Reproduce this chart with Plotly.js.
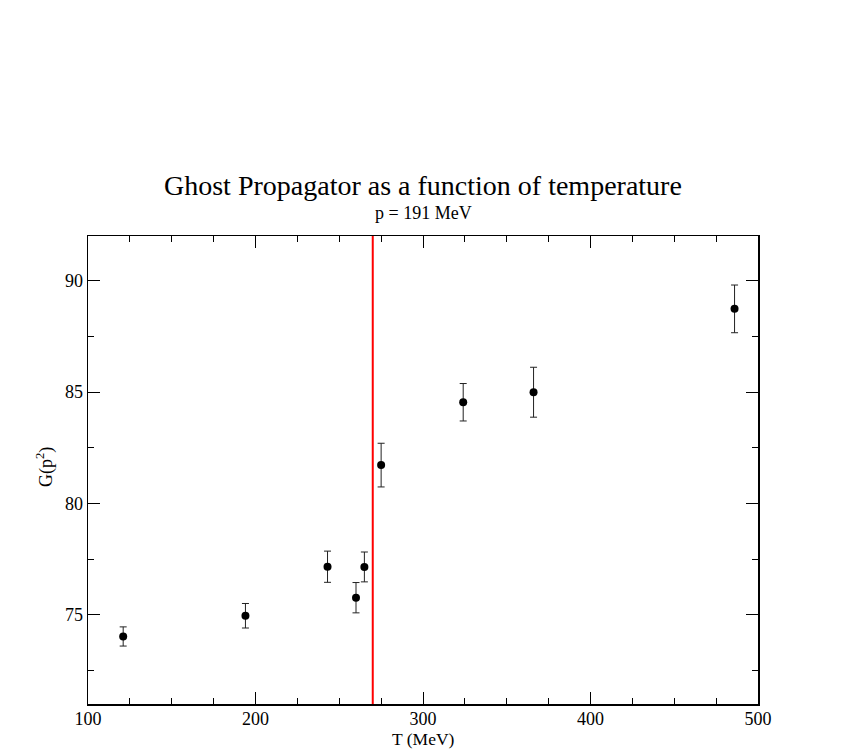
<!DOCTYPE html>
<html>
<head>
<meta charset="utf-8">
<script src="https://cdn.plot.ly/plotly-3.0.1.min.js"></script>
<style>html,body{margin:0;padding:0;background:#fff;}#chart{width:861px;height:749px;}</style>
</head>
<body>
<div id="chart"></div>
<script>
// Data
const temperature = [121, 194, 243, 260, 265, 275, 324, 366, 486];      // T (MeV)
const ghostProp   = [74.03, 74.96, 77.16, 75.77, 77.15, 81.72, 84.54, 84.99, 88.73]; // G(p^2)
const ghostErr    = [0.43, 0.55, 0.70, 0.68, 0.67, 0.98, 0.84, 1.12, 1.07];
const criticalT   = [270];   // red vertical line
const xTicks = [100, 200, 300, 400, 500];
const yTicks = [75, 80, 85, 90];
const titleText = "Ghost Propagator as a function of temperature";
const subtitleText = "p = 191 MeV";
const xTitle = "T (MeV)";
const yTitle = "G(p<sup>2</sup>)";

const serif = 'Liberation Serif';

const trace = {
  x: temperature,
  y: ghostProp,
  type: 'scatter',
  mode: 'markers',
  marker: {color: 'black', size: 8},
  error_y: {type: 'data', array: ghostErr, visible: true, color: '#222', thickness: 1, width: 3.5},
  showlegend: false,
  hoverinfo: 'x+y'
};

const axisCommon = {
  showline: true, linecolor: 'black', linewidth: 1.5, mirror: 'ticks',
  ticks: 'inside', ticklen: 12, tickwidth: 1, tickcolor: 'black',
  showgrid: false, zeroline: false,
  tickfont: {family: serif, size: 18, color: 'black'}
};

const layout = {
  width: 861, height: 749,
  margin: {l: 88, r: 103, t: 236, b: 45},
  paper_bgcolor: 'white', plot_bgcolor: 'white',
  font: {family: serif, color: 'black'},
  xaxis: Object.assign({}, axisCommon, {
    range: [100, 500], tickmode: 'array', tickvals: xTicks, ticktext: xTicks.map(String),
    ticklabelstandoff: -2,
    minor: {dtick: 25, tick0: 100, ticks: 'inside', ticklen: 6, tickcolor: 'black', tickwidth: 1}
  }),
  yaxis: Object.assign({}, axisCommon, {
    range: [71, 92], tickmode: 'array', tickvals: yTicks, ticktext: yTicks.map(String),
    minor: {dtick: 2.5, tick0: 70, ticks: 'inside', ticklen: 6, tickcolor: 'black', tickwidth: 1}
  }),
  shapes: criticalT.map(t => ({
    type: 'line', xref: 'x', yref: 'paper', x0: t, x1: t, y0: 0, y1: 1,
    line: {color: '#ff0000', width: 2}
  })),
  annotations: [
    {text: titleText, xref: 'paper', yref: 'paper', x: 0.5, y: 1, yshift: 51,
     xanchor: 'center', yanchor: 'middle', showarrow: false,
     font: {family: serif, size: 28, color: 'black'}},
    {text: subtitleText, xref: 'paper', yref: 'paper', x: 0.5, y: 1, yshift: 23,
     xanchor: 'center', yanchor: 'middle', showarrow: false,
     font: {family: serif, size: 18, color: 'black'}},
    {text: xTitle, xref: 'paper', yref: 'paper', x: 0.5, y: 0, yshift: -35,
     xanchor: 'center', yanchor: 'middle', showarrow: false,
     font: {family: serif, size: 17.5, color: 'black'}},
    {text: yTitle, xref: 'paper', yref: 'paper', x: 0, xshift: -43, y: 0.5, yshift: 3,
     xanchor: 'center', yanchor: 'middle', showarrow: false, textangle: -90,
     font: {family: serif, size: 18, color: 'black'}}
  ]
};

Plotly.newPlot('chart', [trace], layout, {displayModeBar: false, staticPlot: true});
</script>
</body>
</html>
